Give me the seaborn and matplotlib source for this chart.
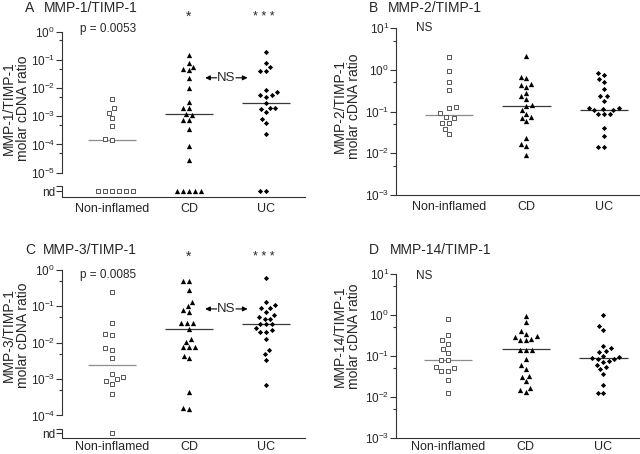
import numpy as np
import pandas as pd
import seaborn as sns
import matplotlib.pyplot as plt
from matplotlib.markers import MarkerStyle
from matplotlib.transforms import Affine2D

groups = ['Non-inflamed', 'CD', 'UC']

# molar cDNA ratios, 0 = not detected (nd)
a_non = [4.3e-3, 1.9e-3, 1.35e-3, 8.5e-4, 4.4e-4, 1.6e-4, 1.4e-4, 0, 0, 0, 0, 0, 0]
a_cd = [0.15, 0.079, 0.059, 0.048, 0.043, 0.023, 0.0105, 3.2e-3, 1.9e-3, 1.9e-3,
        1.17e-3, 1.12e-3, 7.6e-4, 7.6e-4, 3.5e-4, 8.9e-5, 2.7e-5, 0, 0, 0, 0, 0]
a_uc = [0.195, 0.076, 0.055, 0.041, 0.041, 8.3e-3, 7.1e-3, 5.6e-3, 5.6e-3, 5.0e-3,
        2.9e-3, 2.0e-3, 2.0e-3, 1.8e-3, 1.4e-3, 7.9e-4, 5.9e-4, 2.3e-4, 0, 0]
a_med = [1.4e-4, 1.17e-3, 2.9e-3]

b_non = [2.0, 0.91, 0.51, 0.33, 0.13, 0.12, 0.091, 0.074, 0.068, 0.054, 0.054, 0.039, 0.029]
b_cd = [2.1, 0.66, 0.62, 0.46, 0.43, 0.39, 0.28, 0.23, 0.20, 0.145, 0.135, 0.11, 0.089,
        0.072, 0.071, 0.059, 0.023, 0.017, 0.015, 0.0091]
b_uc = [0.83, 0.76, 0.60, 0.50, 0.34, 0.23, 0.23, 0.18, 0.12, 0.12, 0.115, 0.11, 0.107,
        0.085, 0.085, 0.085, 0.040, 0.026, 0.0145, 0.0138]
b_med = [0.083, 0.135, 0.11]

c_non = [0.245, 0.035, 0.017, 0.016, 7.1e-3, 6.3e-3, 3.8e-3, 1.38e-3, 1.17e-3, 1.0e-3,
         8.9e-4, 7.4e-4, 3.8e-4, 0]
c_cd = [0.50, 0.50, 0.28, 0.135, 0.102, 0.078, 0.072, 0.034, 0.034, 0.034, 0.0245,
        0.0129, 0.0107, 7.8e-3, 7.8e-3, 7.8e-3, 4.2e-3, 3.7e-3, 4.4e-4, 1.6e-4, 1.55e-4]
c_uc = [0.59, 0.13, 0.11, 0.093, 0.089, 0.072, 0.058, 0.051, 0.045, 0.045, 0.032, 0.032,
        0.032, 0.025, 0.022, 0.020, 0.020, 0.0129, 6.3e-3, 4.8e-3, 3.4e-3, 6.8e-4]
c_med = [2.5e-3, 0.0245, 0.032]

d_non = [0.81, 0.32, 0.24, 0.20, 0.15, 0.117, 0.081, 0.081, 0.054, 0.052, 0.044, 0.044,
         0.026, 0.0126]
d_cd = [0.95, 0.66, 0.41, 0.35, 0.30, 0.29, 0.26, 0.25, 0.24, 0.138, 0.138, 0.138, 0.085,
        0.059, 0.049, 0.032, 0.031, 0.0245, 0.0162, 0.0145, 0.0132]
d_uc = [1.0, 0.54, 0.44, 0.18, 0.158, 0.132, 0.123, 0.10, 0.095, 0.091, 0.085, 0.085,
        0.076, 0.071, 0.060, 0.054, 0.047, 0.036, 0.020, 0.0123, 0.0123]
d_med = [0.079, 0.145, 0.087]

sns.set_style('ticks')
plt.rcParams['font.family'] = ['Liberation Sans', 'DejaVu Sans']
plt.rcParams['mathtext.default'] = 'regular'

W, H = 640, 454
fig = plt.figure(figsize=(6.4, 4.54), dpi=100)


def px(x, y):
    return x / W, 1 - y / H


panels = [
    dict(letter='A', name='MMP-1/TIMP-1', data=[a_non, a_cd, a_uc], med=a_med,
         rect=(62, 32, 305, 197), ylim=(-5.87, 0), nd=-5.66, stub=-5.49, low=-5,
         xlim=(-0.649, 2.506), ylab=(-0.132, 0.54), title_y=8, lx=25, tx=44,
         p='p = 0.0053', p_xy=(80, 29), star_y=17, ns_y=-1.63, xpad=4),
    dict(letter='B', name='MMP-2/TIMP-1', data=[b_non, b_cd, b_uc], med=b_med,
         rect=(396, 28, 640, 195), ylim=(-3, 1), nd=None, low=-3,
         xlim=(-0.684, 2.465), ylab=(-0.145, 0.53), title_y=8, lx=369, tx=388,
         ns_xy=(416, 28), xpad=4),
    dict(letter='C', name='MMP-3/TIMP-1', data=[c_non, c_cd, c_uc], med=c_med,
         rect=(62, 270, 305, 438), ylim=(-4.62, 0), nd=-4.49, stub=-4.36, low=-4,
         xlim=(-0.649, 2.506), ylab=(-0.132, 0.61), title_y=250, lx=25, tx=43,
         p='p = 0.0085', p_xy=(80, 275), star_y=257, ns_y=-1.07, xpad=2.5),
    dict(letter='D', name='MMP-14/TIMP-1', data=[d_non, d_cd, d_uc], med=d_med,
         rect=(396, 274, 640, 438), ylim=(-3, 1), nd=None, low=-3,
         xlim=(-0.67, 2.47), ylab=(-0.145, 0.62), title_y=250, lx=369, tx=390,
         ns_xy=(416, 276), xpad=2.5),
]

markers = [MarkerStyle('s', transform=Affine2D().scale(0.78)),
           MarkerStyle('^', transform=Affine2D().scale(0.95)),
           MarkerStyle('D', transform=Affine2D().scale(0.66))]
styles = [dict(color='white', edgecolor='#555555', linewidth=0.7),
          dict(color='black', linewidth=0),
          dict(color='black', linewidth=0)]
med_colors = ['#8c8c8c', '#3a3a3a', '#3a3a3a']
spine_col = '#333333'

for p in panels:
    x0, y0, x1, y1 = p['rect']
    l, t = px(x0, y0)
    r, b = px(x1, y1)
    ax = fig.add_axes([l, b, r - l, t - b])

    rows = []
    for g, vals in zip(groups, p['data']):
        for v in vals:
            rows.append((g, np.log10(v) if v > 0 else p['nd']))
    df = pd.DataFrame(rows, columns=['group', 'y'])

    for g, mk, kw in zip(groups, markers, styles):
        sns.swarmplot(data=df[df['group'] == g], x='group', y='y', order=groups,
                      marker=mk, size=4, ax=ax, warn_thresh=1, **kw)

    for i, m in enumerate(p['med']):
        ax.hlines(np.log10(m), i - 0.31, i + 0.31, color=med_colors[i], lw=0.9, zorder=1)

    ax.set_xlim(*p['xlim'])
    ax.set_ylim(*p['ylim'])
    top = int(round(p['ylim'][1]))
    majors = list(range(top, p['low'] - 1, -1))
    labels = [r'$10^{%d}$' % n for n in majors]
    minors = [n + np.log10(5) for n in range(top - 1, p['low'] - 1, -1)]
    if p['nd'] is not None:
        ticks = majors + [p['nd'], p['stub']]
        labels = labels + ['nd', '']
        ax.spines['left'].set_bounds(p['low'], p['ylim'][1])
        ax.plot([0, 0], [p['stub'], p['ylim'][0]], transform=ax.get_yaxis_transform(),
                color=spine_col, lw=0.8, clip_on=False)
    else:
        ticks = majors
    ax.set_yticks(ticks)
    ax.set_yticklabels(labels)
    ax.set_yticks(minors, minor=True)

    for s in ['top', 'right']:
        ax.spines[s].set_visible(False)
    for s in ['left', 'bottom']:
        ax.spines[s].set_color(spine_col)
        ax.spines[s].set_linewidth(0.8)
    ax.tick_params(axis='y', which='major', length=4, width=0.8, pad=1,
                   labelsize=8.5, color=spine_col)
    ax.tick_params(axis='y', which='minor', length=2.5, width=0.8, color=spine_col)
    ax.tick_params(axis='x', length=0, pad=p['xpad'], labelsize=9)
    ax.set_xlabel('')
    ax.set_ylabel(p['name'] + '\nmolar cDNA ratio', fontsize=10, linespacing=1.0)
    ax.yaxis.set_label_coords(*p['ylab'])

    fig.text(*px(p['lx'], p['title_y']), p['letter'], fontsize=10, va='center')
    fig.text(*px(p['tx'], p['title_y']), p['name'], fontsize=10, va='center')

    if 'p' in p:
        fig.text(*px(*p['p_xy']), p['p'], fontsize=8.5, va='center')
        fig.text(*px(189, p['star_y']), '*', fontsize=10, ha='center', va='center')
        fig.text(*px(264, p['star_y']), '* * *', fontsize=9, ha='center', va='center')
        ny = p['ns_y']
        ax.text(1.48, ny, 'NS', fontsize=9.5, ha='center', va='center')
        ax.annotate('', xy=(1.21, ny), xytext=(1.36, ny),
                    arrowprops=dict(arrowstyle='-|>', color='black', lw=0.8,
                                    mutation_scale=7, shrinkA=0, shrinkB=0))
        ax.annotate('', xy=(1.76, ny), xytext=(1.61, ny),
                    arrowprops=dict(arrowstyle='-|>', color='black', lw=0.8,
                                    mutation_scale=7, shrinkA=0, shrinkB=0))
    else:
        fig.text(*px(*p['ns_xy']), 'NS', fontsize=8.5, va='center')

fig.savefig('out.png', dpi=100)
